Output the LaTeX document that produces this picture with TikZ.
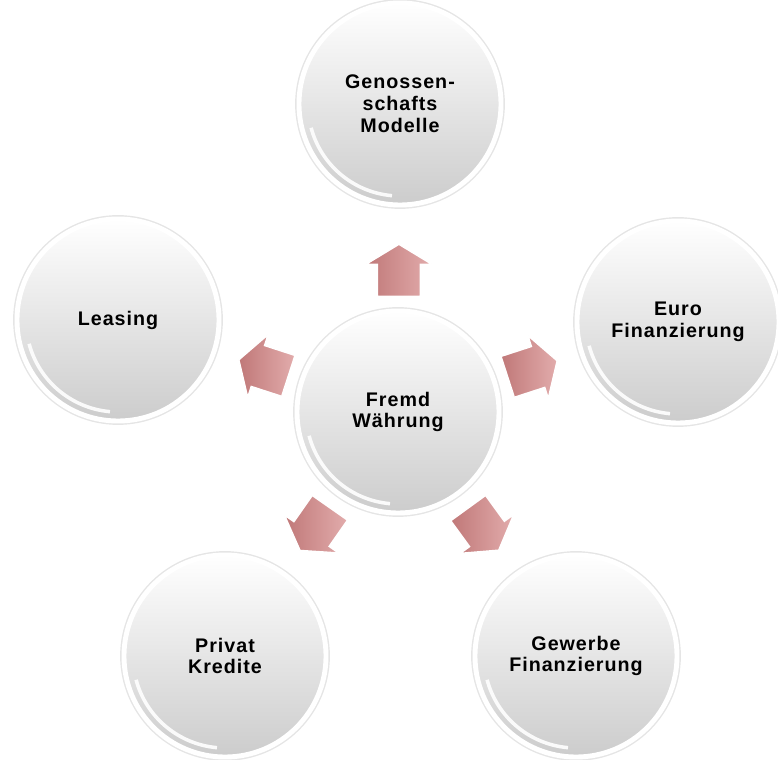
\documentclass[tikz,border=0pt]{standalone}
\usepackage{fontspec}
\setmainfont{Liberation Sans}
\usepackage{xcolor}
\usetikzlibrary{calc}
\usetikzlibrary{positioning}

\definecolor{arrowlight}{RGB}{226,172,172}
\definecolor{arrowdark}{RGB}{192,120,120}

\tikzset{
  bubble/.style={circle, minimum size=5.05cm, inner sep=0pt, align=center,
    top color=white, bottom color=black!20, draw=white, line width=3.5pt,
    preaction={draw=black!10, line width=5.5pt},
    font=\addfontfeature{LetterSpace=5}\bfseries\fontsize{14}{15.5}\selectfont},
  fatarrow/.style={left color=arrowdark, right color=arrowlight, draw=white, line width=1pt},
}

\begin{document}
\begin{tikzpicture}[x=0.025cm,y=-0.025cm]
\useasboundingbox (0,0) rectangle (778,760);

\node[bubble] (fremd) at (398,412) {Fremd\\Währung};
\node[bubble] (geno) at (400,104) {Genossen-\\schafts\\Modelle};
\node[bubble] (euro) at (678,322) {Euro\\Finanzierung};
\node[bubble] (leasing) at (118,320) {Leasing};
\node[bubble] (privat) at (225,656) {Privat\\Kredite};
\node[bubble] (gewerbe) at (576,656) {Gewerbe\\Finanzierung};

% glossy rim
\foreach \n in {fremd,geno,euro,leasing,privat,gewerbe}
  \draw[white, line width=2.5pt, opacity=0.9] ($(\n.center)+(195:2.3cm)$) arc (195:265:2.3cm);

% block arrows
\foreach \to/\ang/\f in {geno/90/0.46, euro/18/0.48, leasing/162/0.48, privat/235/0.48, gewerbe/306/0.48}
  \draw[fatarrow, shift={($(fremd)!\f!(\to)$)}, rotate=\ang]
    (-26,-21.5) -- (6,-21.5) -- (6,-33) -- (26,0) -- (6,33) -- (6,21.5) -- (-26,21.5) -- cycle;

\end{tikzpicture}
\end{document}
